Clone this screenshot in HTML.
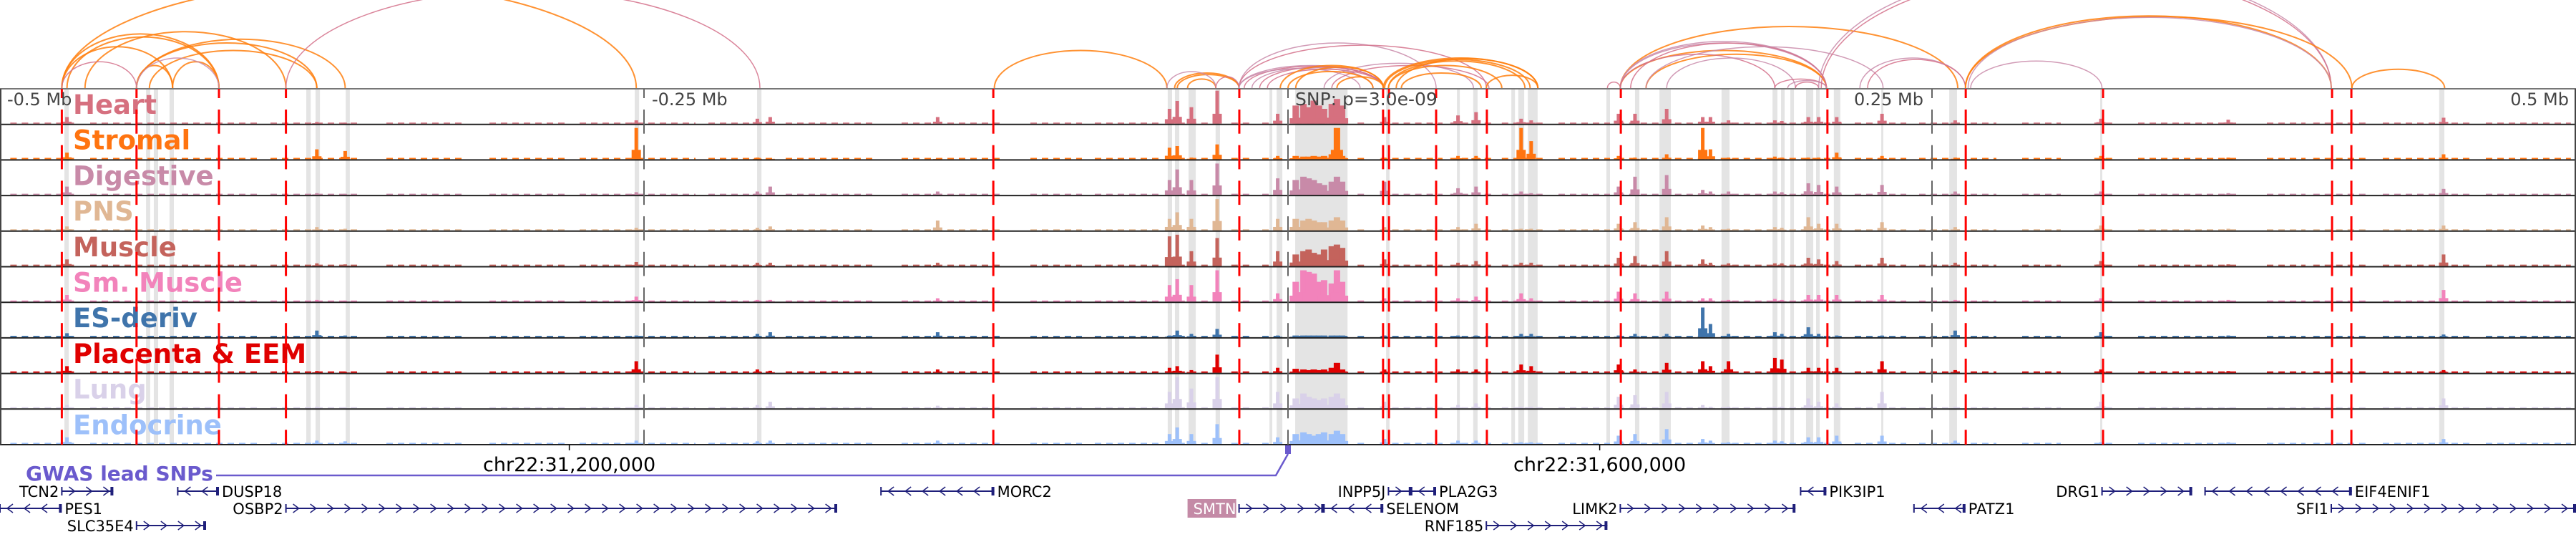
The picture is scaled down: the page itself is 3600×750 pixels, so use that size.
<!DOCTYPE html>
<html><head><meta charset="utf-8"><style>
html,body{margin:0;padding:0;background:#fff;}
svg{display:block;}
</style></head><body>
<svg id="chart" width="3600" height="750" viewBox="0 0 3600 750" xmlns="http://www.w3.org/2000/svg">
<defs><clipPath id="arcclip"><rect x="0" y="0" width="3600" height="123"/></clipPath></defs>
<g id="bands"></g>
<g id="signals"></g>
<g id="frames"></g>
<g id="labels"></g>
<g id="vlines"></g>
<g id="arcs" clip-path="url(#arcclip)"></g>
<g id="genes"></g>
<g id="texts"></g>
</svg>
<script>
const trackNames=["Heart","Stromal","Digestive","PNS","Muscle","Sm. Muscle","ES-deriv","Placenta & EEM","Lung","Endocrine"];
const trackColors=["#d6707f","#ff7410","#c88aa8","#e0b794","#c4635c","#f283bb","#3f74ab","#e00000","#d9d1e9","#9dc0fa"];
const redLinesKb=[-476,-447,-415,-389,-114.4,-18.9,36.9,39.2,57.5,77.2,129.2,209.4,263.1,316.4,405.3,412.8];
const bandStartKb=[-475,-443.3,-440.3,-434.2,-381.1,-377.5,-365.8,-253.6,-206.1,-46.7,-43.9,-38.6,-28.1,-7.2,-4.4,2.8,38.1,65.6,71.9,86.7,89.4,93.1,123.6,134.7,144.2,168.3,188.1,191.4,195,201.1,205,211.9,230.3,256.7,315.3,446.9];
const bandEndKb=[-473.3,-441.7,-438.6,-432.5,-379.4,-375.8,-364.2,-251.9,-204.4,-45,-42.2,-35.8,-26.4,-6.1,-2.2,23.1,39.4,66.7,73.6,88.1,91.7,96.9,125,136.4,148.6,171.4,190,192.8,196.4,203.9,206.4,214.4,231.1,259.7,316.1,448.9];
const peakKb=[-474,-377,-366,-253,-206,-201,-136,-46,-43,-37.5,-27.5,-4,3,6,8,10,12,14,17,19,21,37.5,66,73,90.5,94.4,128.3,134.7,147,161,164,171,189,191.7,202,206,213,230.6,259,315.6,365,448.6];
const heartVals=[.2,.05,.03,.1,.15,.2,.2,.45,.69,.5,1,.3,.55,.6,.5,.7,.55,.45,.6,.75,.55,.2,.25,.35,.15,.1,.3,.3,.45,.2,.2,.1,.1,.08,.2,.2,.2,.3,.1,.15,.12,.18];
const stromalVals=[.2,.3,.25,.95,.05,.04,.03,.35,.4,.05,.45,.1,.1,.08,.08,.1,.08,.1,.15,.95,.1,.05,.1,.1,.95,.55,.1,.05,.15,.95,.3,.05,.08,.05,.05,.05,.2,.1,.05,.1,.05,.15];
const digestiveVals=[.25,.05,.03,.08,.1,.25,.1,.45,.77,.45,.95,.5,.45,.55,.5,.45,.35,.3,.4,.55,.4,.4,.2,.25,.1,.05,.25,.55,.6,.15,.1,.1,.1,.08,.35,.3,.25,.3,.1,.1,.05,.18];
const pnsVals=[.12,.1,.05,.08,.08,.12,.3,.35,.55,.35,.95,.35,.35,.3,.35,.3,.25,.25,.3,.4,.3,.1,.1,.2,.05,.05,.2,.25,.4,.15,.1,.05,.1,.08,.4,.2,.2,.25,.1,.15,.05,.15];
const muscleVals=[.2,.08,.05,.12,.1,.1,.1,.9,.95,.45,.85,.45,.35,.45,.5,.4,.35,.5,.6,.65,.55,.2,.1,.15,.1,.1,.25,.3,.45,.2,.1,.08,.08,.08,.25,.2,.15,.25,.1,.15,.05,.35];
const smMuscleVals=[.2,.05,.03,.15,.05,.05,.1,.5,.68,.5,.95,.25,.6,.95,.9,.85,.6,.65,.55,.95,.6,.1,.1,.15,.25,.1,.3,.25,.3,.1,.1,.05,.08,.05,.2,.2,.2,.2,.05,.1,.05,.35];
const esVals=[.12,.2,.05,.05,.1,.15,.15,.05,.2,.1,.25,.05,.05,.05,.05,.05,.05,.05,.05,.05,.05,.05,.05,.05,.1,.1,.05,.1,.1,.9,.4,.1,.15,.1,.3,.1,.05,.05,.2,.15,.05,.08];
const placentaVals=[.2,.05,.03,.35,.1,.06,.1,.15,.2,.08,.55,.15,.12,.1,.08,.1,.08,.1,.15,.3,.1,.1,.1,.1,.25,.2,.25,.1,.3,.35,.2,.35,.45,.4,.15,.15,.15,.35,.08,.1,.05,.08];
const lungVals=[.1,.05,.03,.1,.1,.2,.08,.5,.95,.6,.95,.5,.3,.45,.35,.3,.25,.3,.35,.45,.3,.2,.1,.15,.05,.05,.35,.4,.5,.1,.05,.05,.05,.05,.3,.2,.15,.5,.05,.2,.02,.3];
const endoVals=[.2,.1,.08,.1,.08,.1,.1,.3,.5,.3,.6,.2,.3,.35,.3,.25,.3,.35,.3,.4,.3,.15,.1,.1,.05,.05,.25,.3,.45,.15,.1,.05,.1,.08,.2,.2,.25,.25,.1,.05,.05,.15];
const baseStartKb=[-496,-465,-395,-350,-310,-275,-225,-195,-150,-100,-75,-47,-22,-10,3,27,36,63,83,105,128,168,220,245,265,285,313,330,380,398,425,465];
const baseEndKb=[-470,-400,-360,-320,-280,-230,-200,-160,-110,-80,-50,-25,-15,-2,23,30,60,80,100,125,165,215,240,262,275,300,320,370,395,420,460,498];
const baseLevel=[.03,.04,.03,.03,.04,.02,.04,.04,.02,.03];
const arcStartKb=[-476,-474,-476,-447,-447,-442,-447,-433,-476,-467,-476,-447,-389,-114,-44,-43,-39,-47,-28,-19,-19,-19,-17,-14,-11,-19,-8,14,17,3,-3,0,19,37,37.5,39,39,42,77,44,124,129,129,129,139,129,133,139,129,147,189,194,197,206,207,222,225,265,263,263,413,264];
const arcEndKb=[-415,-415,-433,-377,-366,-377,-433,-415,-253,-389,-447,-415,-205,-47,-19,-19,-28,-28,-19,57.5,77,37,37,33,37,28,37,72,78,37,37,33,37,97,94,92,83,97,97,75,129,260,209,209,209,209,209,231,189,197,209,209,206,405,405,263,263,316,405,413,449,405];
const arcScore=[.72,.68,.55,.6,.65,.5,.3,.35,1.4,.75,.35,.4,1.3,.5,.2,.18,.12,.22,.15,.6,.57,.3,.29,.27,.28,.26,.25,.33,.3,.28,.3,.22,.15,.4,.38,.36,.3,.39,.17,.2,.08,.82,.5,.62,.45,.6,.6,.55,.45,.4,.12,.1,.08,1.6,1.55,.4,.38,.36,.96,.95,.25,.94];
const arcType=["O","O","O","O","O","O","O","O","O","O","P","P","P","O","O","O","O","P","P","P","P","P","P","P","P","P","P","P","P","O","O","O","O","O","O","O","O","O","O","O","P","O","O","P","O","P","P","P","P","P","P","P","P","P","P","P","P","P","O","O","O","P"];
const geneNames=["TCN2","PES1","SLC35E4","DUSP18","OSBP2","MORC2","INPP5J","PLA2G3","SMTN","SELENOM","LIMK2","RNF185","PIK3IP1","PATZ1","DRG1","EIF4ENIF1","SFI1"];
const geneStartKb=[-476,-500,-447,-431,-389,-158,39,48,-19,14,129,77,199,243,316,356,405];
const geneEndKb=[-456,-476,-420,-415,-175,-114,48,57.5,14,37,197,124,209,263,351,413,500];
const geneRow=[0,1,2,0,1,0,0,0,1,1,1,2,0,1,0,0,1];
const geneStrand=["+","-","+","-","+","-","+","-","+","-","+","+","-","-","+","-","+"];
const geneLabelSide=["L","R","L","R","L","R","L","R","L","R","L","L","R","R","L","R","L"];
const axisTickKb=[-279,121];
const axisTickLabels=["chr22:31,200,000","chr22:31,600,000"];
const scaleTickKb=[-250,250];
const scaleLabels=["-0.5 Mb","-0.25 Mb","0.25 Mb","0.5 Mb"];

const NS="http://www.w3.org/2000/svg";
const xs=kb=>1800+kb*3.6;
const TOP=124, TH=49.7, NT=10;
const tTop=i=>TOP+i*TH;
function mk(tag,attrs,parent){const e=document.createElementNS(NS,tag);for(const k in attrs)e.setAttribute(k,attrs[k]);parent.appendChild(e);return e;}
const G=id=>document.getElementById(id);
const allVals=[heartVals,stromalVals,digestiveVals,pnsVals,muscleVals,smMuscleVals,esVals,placentaVals,lungVals,endoVals];

for(let i=0;i<bandStartKb.length;i++){
  const x1=xs(bandStartKb[i]),x2=xs(bandEndKb[i]);
  const r=mk('rect',{x:x1,y:TOP,width:Math.max(2,x2-x1),height:NT*TH,fill:'#e4e4e4'},G('bands'));
  
  
}
for(let t=0;t<NT;t++){
  const g=mk('g',{},G('signals'));
  
  
  const bot=tTop(t)+TH-1;
  for(let b=0;b<baseStartKb.length;b++){
    const x1=xs(baseStartKb[b]),x2=xs(baseEndKb[b]);const h=Math.max(1.5,baseLevel[t]*46);
    const r=mk('line',{x1:x1,y1:bot-h/2,x2:x2,y2:bot-h/2,stroke:trackColors[t],'stroke-width':h,'stroke-dasharray':'9 7'},g);
    
    
  }
  const vals=allVals[t];
  for(let p=0;p<peakKb.length;p++){
    const h=vals[p]*46;const x=xs(peakKb[p]);
    const w=(peakKb[p]>=3&&peakKb[p]<=21)?9:5;
    const r=mk('rect',{x:x-w/2,y:bot-h,width:w,height:h,fill:trackColors[t]},g);
    
    
    const s=mk('rect',{x:x-w/2-4,y:bot-h*0.3,width:w+8,height:h*0.3,fill:trackColors[t]},g);
    
    
  }
}
mk('line',{x1:0,y1:TOP,x2:3600,y2:TOP,stroke:'#777','stroke-width':2},G('frames'));
for(let t=0;t<NT;t++){
  mk('line',{x1:0,y1:tTop(t)+TH,x2:3600,y2:tTop(t)+TH,stroke:'#222','stroke-width':2},G('frames'));
}
mk('line',{x1:1,y1:TOP,x2:1,y2:TOP+NT*TH,stroke:'#444','stroke-width':2},G('frames'));
mk('line',{x1:3599,y1:TOP,x2:3599,y2:TOP+NT*TH,stroke:'#444','stroke-width':2},G('frames'));
for(let t=0;t<NT;t++){
  const tx=mk('text',{x:102,y:tTop(t)+35,fill:trackColors[t],'font-family':'DejaVu Sans, Liberation Sans, sans-serif','font-weight':'bold','font-size':37},G('labels'));
  tx.textContent=trackNames[t];
  
  
}
function dashLine(x,color,w,name){
  for(let t=0;t<NT;t++){
    const T=tTop(t);
    const a=mk('line',{x1:x,y1:T,x2:x,y2:T+13,stroke:color,'stroke-width':w},G('vlines'));
    
    
    const b=mk('line',{x1:x,y1:T+29,x2:x,y2:T+TH,stroke:color,'stroke-width':w},G('vlines'));
    
    
  }
}
redLinesKb.forEach(k=>dashLine(xs(k),'#ff0000',3,'variant-line'));
scaleTickKb.forEach(k=>dashLine(xs(k),'#666',2,'scale-tick-line'));
dashLine(xs(0),'#666',2,'snp-line');
for(let i=0;i<arcStartKb.length;i++){
  const x1=xs(arcStartKb[i]),x2=xs(arcEndKb[i]);
  const rx=Math.abs(x2-x1)/2, ry=arcScore[i]*105;
  const col=arcType[i]==="O"?'#ff7f0e':(i%2?'#c98aa9':'#d4708a');
  const p=mk('path',{d:`M${x1},123 A${rx},${ry} 0 0 1 ${x2},123`,fill:'none',stroke:col,'stroke-width':arcType[i]==="O"?2:1.5,'stroke-opacity':0.85},G('arcs'));
  
  
}
const rowY=[686,710,734];
const GC='#1f1f7a';
for(let i=0;i<geneNames.length;i++){
  const x1=xs(geneStartKb[i]),x2=xs(geneEndKb[i]),y=rowY[geneRow[i]];
  const g=mk('g',{},G('genes'));
  
  
  mk('line',{x1:x1,y1:y,x2:x2,y2:y,stroke:GC,'stroke-width':2},g);
  mk('line',{x1:x1,y1:y-6,x2:x1,y2:y+6,stroke:GC,'stroke-width':2},g);
  mk('rect',{x:x2-4,y:y-6,width:4,height:12,fill:GC},g);
  const d=geneStrand[i]==="+"?1:-1;
  for(let x=x1+14;x<x2-8;x+=24){
    mk('path',{d:`M${x-4*d},${y-6} L${x+4*d},${y} L${x-4*d},${y+6}`,fill:'none',stroke:GC,'stroke-width':1.5},g);
  }
  const L=geneLabelSide[i]==="L";
  const lx=L?x1-4:x2+4;
  if(geneNames[i]==="SMTN"){
    mk('rect',{x:lx-68,y:y-13,width:68,height:26,fill:'#c48aa6'},g);
  }
  const tx=mk('text',{x:lx,y:y+8,'text-anchor':L?'end':'start',fill:geneNames[i]==="SMTN"?'#fff':'#000','font-family':'DejaVu Sans, Liberation Sans, sans-serif','font-size':21},g);
  tx.textContent=geneNames[i];
}
for(let i=0;i<axisTickKb.length;i++){
  const x=xs(axisTickKb[i]);
  mk('line',{x1:x,y1:621,x2:x,y2:629,stroke:'#000','stroke-width':1.5},G('texts'));
  const tx=mk('text',{x:x,y:658,'text-anchor':'middle','font-family':'DejaVu Sans, Liberation Sans, sans-serif','font-size':27},G('texts'));
  tx.textContent=axisTickLabels[i];
  
  
}
const slX=[10,911,2688,3590], slA=['start','start','end','end'];
for(let i=0;i<4;i++){
  const tx=mk('text',{x:slX[i],y:147,'text-anchor':slA[i],fill:'#444','font-family':'DejaVu Sans, Liberation Sans, sans-serif','font-size':24},G('texts'));
  tx.textContent=scaleLabels[i];
  
  
}
const snp=mk('text',{x:1810,y:147,fill:'#444','font-family':'DejaVu Sans, Liberation Sans, sans-serif','font-size':25},G('texts'));
snp.textContent="SNP: p=3.0e-09";


const gw=mk('text',{x:36,y:671,fill:'#6a5acd','font-family':'DejaVu Sans, Liberation Sans, sans-serif','font-weight':'bold','font-size':28},G('texts'));
gw.textContent="GWAS lead SNPs";


const snpX=xs(0);
const gl=mk('path',{d:`M302,664 L${snpX-17},664 L${snpX},634`,fill:'none',stroke:'#6a5acd','stroke-width':2.5},G('texts'));


const gm=mk('rect',{x:snpX-4,y:622,width:8,height:12,fill:'#6a5acd'},G('texts'));


</script>
</body></html>
